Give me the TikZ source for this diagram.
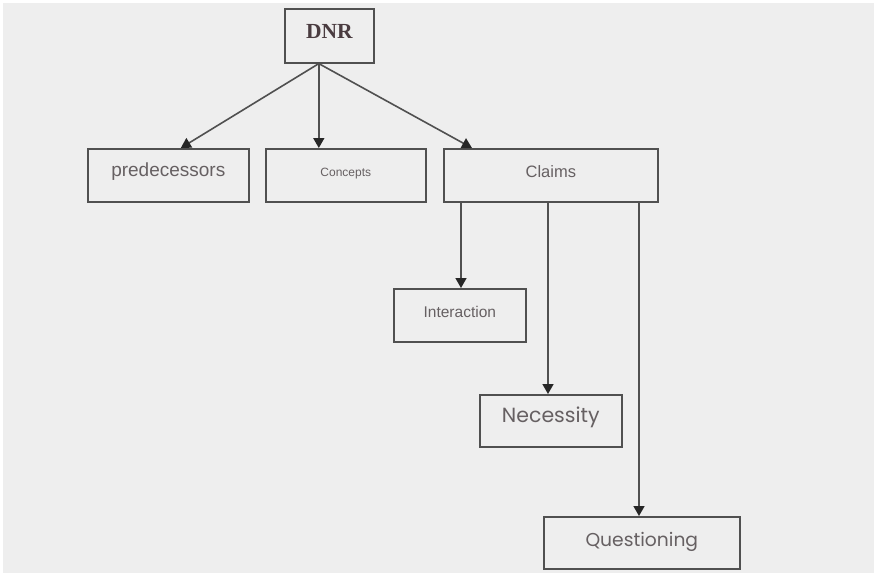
\documentclass[tikz,border=0pt]{standalone}
\usepackage{fontspec}
\setmainfont{Liberation Sans}
\newfontfamily\serifb{Liberation Serif}
\newfontfamily\geo{Poppins}
\usetikzlibrary{arrows.meta}
\definecolor{bg}{HTML}{EEEEEE}
\definecolor{edge}{HTML}{505050}
\definecolor{txt}{HTML}{666062}
\definecolor{dnrc}{HTML}{4A3C40}
\tikzset{
  box/.style={draw=edge, line width=1.6pt, rectangle, inner sep=0pt, text=txt, anchor=north west},
  conn/.style={draw=edge, line width=1.6pt, -{Triangle[width=11pt,length=10pt,color=black!85]}},
}
\begin{document}
\begin{tikzpicture}[x=1pt,y=-1pt]
\fill[white] (0,0) rectangle (877,576);
\useasboundingbox (0,0) rectangle (877,576);
\fill[bg] (3,3) rectangle (874,573);

\node[box, minimum width=89pt, minimum height=54pt, text=dnrc, font=\serifb\bfseries\fontsize{21.5}{24}\selectfont, text depth=9pt] (dnr) at (284,8) {DNR};
\node[box, minimum width=161pt, minimum height=53pt, font=\fontsize{19}{22}\selectfont, text depth=11pt] (pred) at (87,148) {predecessors};
\node[box, minimum width=160pt, minimum height=53pt, font=\fontsize{12}{14}\selectfont, text depth=5pt] (conc) at (265,148) {Concepts};
\node[box, minimum width=214pt, minimum height=53pt, font=\fontsize{16.5}{20}\selectfont, text depth=8pt] (claims) at (443,148) {Claims};
\node[box, minimum width=132pt, minimum height=53pt, font=\fontsize{15.5}{18}\selectfont, text depth=7pt] (inter) at (393,288) {Interaction};
\node[box, minimum width=142pt, minimum height=52pt, font=\geo\fontsize{20.5}{24}\selectfont, text depth=13pt] (nec) at (479,394) {Necessity};
\node[box, minimum width=196pt, minimum height=52pt, font=\geo\fontsize{18.7}{22}\selectfont, text depth=7pt] (quest) at (543,516) {Questioning};

\coordinate (d0) at ([xshift=-10.5pt]dnr.south);
\draw[conn] (d0) -- ([xshift=12.5pt]pred.north);
\draw[conn] (d0) -- (d0 |- conc.north);
\draw[conn] (d0) -- ([xshift=29pt]claims.north west);

\coordinate (c1) at ([xshift=18pt]claims.south west);
\coordinate (c2) at ([xshift=105pt]claims.south west);
\coordinate (c3) at ([xshift=196pt]claims.south west);
\draw[conn] (c1) -- (c1 |- inter.north);
\draw[conn] (c2) -- (c2 |- nec.north);
\draw[conn] (c3) -- (c3 |- quest.north);
\end{tikzpicture}
\end{document}
